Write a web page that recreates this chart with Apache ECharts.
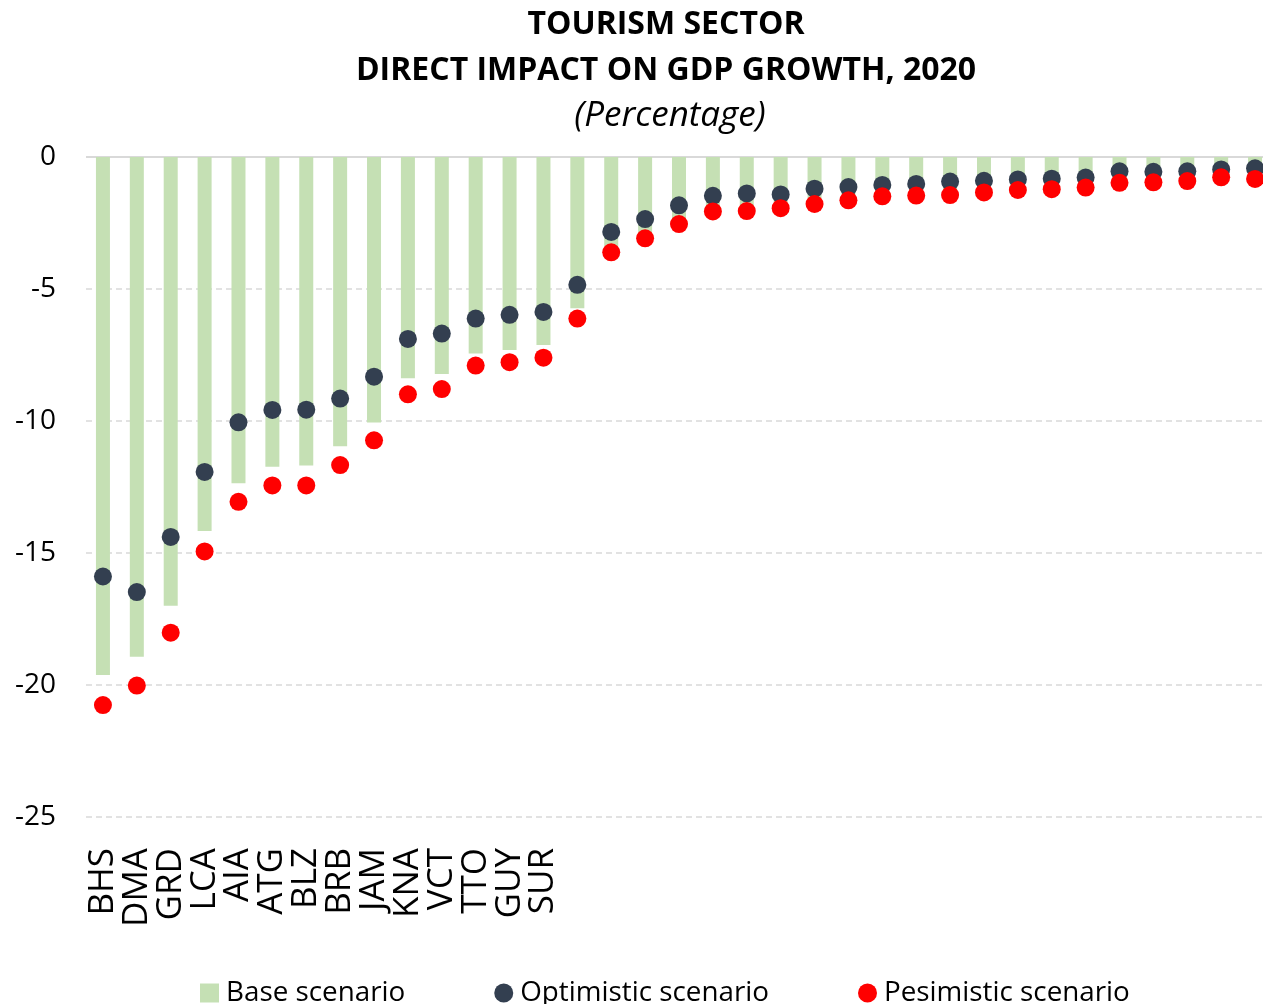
<!DOCTYPE html>
<html>
<head>
<meta charset="utf-8">
<script src="https://cdn.jsdelivr.net/npm/echarts@6/dist/echarts.min.js"></script>
<style>
  html, body { margin: 0; padding: 0; background: #ffffff; }
  #chart { width: 1263px; height: 1004px; }
</style>
</head>
<body>
<div id="chart"></div>
<script>
// Country codes (only the first fourteen carry a visible label)
const countries = ['BHS', 'DMA', 'GRD', 'LCA', 'AIA', 'ATG', 'BLZ', 'BRB', 'JAM', 'KNA', 'VCT', 'TTO', 'GUY', 'SUR',
  '', '', '', '', '', '', '', '', '', '', '', '', '', '', '', '', '', '', '', '', ''];

// Direct impact on GDP growth, 2020 (percentage points)
const baseScenario = [-19.62, -18.93, -17.0, -14.17, -12.36, -11.73, -11.69, -10.96, -10.06, -8.38, -8.22, -7.44, -7.31, -7.12,
  -5.73, -3.40, -2.88, -2.35, -1.90, -1.87, -1.80, -1.62, -1.50, -1.37, -1.34, -1.30, -1.22, -1.14, -1.11, -1.06,
  -0.86, -0.85, -0.81, -0.69, -0.72];
const optimisticScenario = [-15.89, -16.48, -14.39, -11.93, -10.05, -9.58, -9.57, -9.15, -8.32, -6.89, -6.69, -6.12, -5.98, -5.87,
  -4.84, -2.84, -2.35, -1.83, -1.47, -1.38, -1.42, -1.20, -1.14, -1.06, -1.02, -0.93, -0.90, -0.85, -0.82, -0.78,
  -0.54, -0.56, -0.54, -0.47, -0.43];
const pessimisticScenario = [-20.76, -20.02, -18.02, -14.94, -13.06, -12.44, -12.44, -11.67, -10.73, -8.99, -8.79, -7.90, -7.77, -7.60,
  -6.12, -3.61, -3.08, -2.54, -2.06, -2.05, -1.94, -1.78, -1.64, -1.49, -1.46, -1.44, -1.34, -1.25, -1.22, -1.16,
  -0.98, -0.96, -0.91, -0.77, -0.83];

// Value axis ticks
const yTicks = { min: -25, max: 0, interval: 5 };

const seriesNames = ['Base scenario', 'Optimistic scenario', 'Pesimistic scenario'];
const colors = { base: '#c5e0b4', optimistic: '#333f50', pessimistic: '#ff0000' };

const FONT = '"Open Sans", "Noto Sans", sans-serif';

const chart = echarts.init(document.getElementById('chart'), null, { renderer: 'canvas' });

chart.setOption({
  backgroundColor: '#ffffff',
  animation: false,
  textStyle: { fontFamily: FONT, color: '#000000' },
  title: [
    {
      text: 'TOURISM SECTOR\nDIRECT IMPACT ON GDP GROWTH, 2020',
      left: 661,
      top: -3,
      textAlign: 'center',
      textStyle: { fontFamily: FONT, fontSize: 32, fontWeight: 'bold', color: '#000000', lineHeight: 46 }
    },
    {
      text: '(Percentage)',
      left: 665,
      top: 91,
      textAlign: 'center',
      textStyle: { fontFamily: FONT, fontSize: 35, fontStyle: 'italic', fontWeight: 'normal', color: '#000000', lineHeight: 40 }
    }
  ],
  legend: {
    data: [
      { name: seriesNames[0], icon: 'rect' },
      { name: seriesNames[1], icon: 'circle' },
      { name: seriesNames[2], icon: 'circle' }
    ],
    left: 195,
    top: 974,
    itemWidth: 19,
    itemHeight: 19,
    itemGap: 89,
    textStyle: { fontFamily: FONT, fontSize: 27.8, color: '#000000', padding: [0, 0, 0, 2] }
  },
  // the category band runs slightly past the right edge of the canvas
  grid: { left: 86, top: 157, width: 1186, height: 660, outerBoundsMode: 'none', containLabel: false },
  xAxis: {
    type: 'category',
    data: countries,
    axisLine: { show: false, onZero: false },
    axisTick: { show: false },
    axisLabel: {
      interval: 0,
      rotate: 90,
      margin: 31,
      fontFamily: FONT,
      fontSize: 35,
      color: '#000000'
    },
    splitLine: { show: false }
  },
  yAxis: {
    type: 'value',
    min: yTicks.min,
    max: yTicks.max,
    interval: yTicks.interval,
    axisLine: { show: false },
    axisTick: { show: false },
    axisLabel: { margin: 30, fontFamily: FONT, fontSize: 28, color: '#000000' },
    splitLine: { show: true, lineStyle: { color: '#d9d9d9', type: [6, 4], width: 1.5 } }
  },
  series: [
    {
      name: seriesNames[0],
      type: 'bar',
      data: baseScenario,
      barWidth: 14,
      itemStyle: { color: colors.base },
      markLine: {
        silent: true,
        symbol: 'none',
        label: { show: false },
        lineStyle: { color: '#d9d9d9', type: 'solid', width: 2 },
        data: [{ yAxis: 0 }],
        z: 1
      }
    },
    {
      name: seriesNames[1],
      type: 'scatter',
      data: optimisticScenario,
      symbol: 'circle',
      symbolSize: 18,
      itemStyle: { color: colors.optimistic, opacity: 1 },
      z: 3
    },
    {
      name: seriesNames[2],
      type: 'scatter',
      data: pessimisticScenario,
      symbol: 'circle',
      symbolSize: 18,
      itemStyle: { color: colors.pessimistic, opacity: 1 },
      z: 4
    }
  ]
});
</script>
</body>
</html>
